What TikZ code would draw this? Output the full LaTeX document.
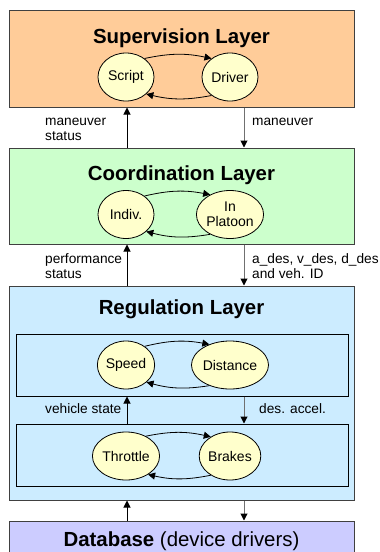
\documentclass[tikz,border=0pt]{standalone}
\usepackage{fontspec}
\setmainfont{Liberation Sans}
\usetikzlibrary{arrows.meta,shapes.geometric}
\definecolor{supfill}{HTML}{FFCC99}
\definecolor{coordfill}{HTML}{CCFFCC}
\definecolor{regfill}{HTML}{CCECFF}
\definecolor{dbfill}{HTML}{CCCCFF}
\definecolor{statefill}{HTML}{FFFFCC}
\definecolor{boxline}{HTML}{404040}
\definecolor{downgray}{HTML}{707070}
\begin{document}
\begin{tikzpicture}[x=1pt,y=-1pt,
  layer/.style={draw=boxline, line width=1pt, rectangle, inner sep=0pt},
  inner/.style={draw=black, line width=1pt, rectangle, inner sep=0pt},
  state/.style={ellipse, draw=black, fill=statefill, line width=0.8pt,
    minimum width=56pt, minimum height=48pt, inner sep=0pt,
    font=\fontsize{14}{15}\selectfont, align=center},
  title/.style={font=\fontsize{20.4}{24}\selectfont\bfseries, anchor=base, inner sep=0pt},
  lbl/.style={font=\fontsize{13.7}{15}\selectfont, align=left, anchor=base west, inner sep=0pt},
  loop/.style={-{Triangle[length=7pt,width=7pt]}, line width=0.8pt, black},
  uparrow/.style={-{Triangle[length=7pt,width=7pt]}, line width=1pt, black},
  downarrow/.style={draw=downgray, -{Triangle[length=7pt,width=7pt,color=black]}, line width=1pt}]
\useasboundingbox (0,0) rectangle (380,552);
\begin{scope}
\clip (0,0) rectangle (380,552);
% layers
\node[layer, fill=supfill, minimum width=345pt, minimum height=97pt] (sup) at (181.5,58.5) {};
\node[layer, fill=coordfill, minimum width=345pt, minimum height=96pt] (coord) at (181.5,196) {};
\node[layer, fill=regfill, minimum width=345pt, minimum height=214pt] (reg) at (181.5,393) {};
\node[inner, minimum width=332pt, minimum height=62pt] (reg1) at (182,365) {};
\node[inner, minimum width=332pt, minimum height=62pt] (reg2) at (182,455) {};
\node[layer, fill=dbfill, minimum width=345pt, minimum height=60pt] (db) at (181.5,551) {};
\end{scope}
% titles
\node[title] (suptitle) at (181.5,43) {Supervision Layer};
\node[title] (coordtitle) at (181.5,180) {Coordination Layer};
\node[title] (regtitle) at (181.5,314) {Regulation Layer};
\node[title, font=\fontsize{20.4}{24}\selectfont] (dbtitle) at (181.5,546) {\textbf{Database} (device drivers)};
% states
\node[state] (script) at (126,77) {Script};
\node[state] (driver) at (230,77) {Driver};
\node[state] (indiv) at (126,214.5) {Indiv.};
\node[state] (platoon) at (230,214.5) {In\\Platoon};
\node[state] (speed) at (126,365) {Speed};
\node[state] (distance) at (230,365) {Distance};
\node[state] (throttle) at (126,456) {Throttle};
\node[state] (brakes) at (230,456) {Brakes};
% loops
\foreach \a/\b in {script/driver, indiv/platoon, speed/distance, throttle/brakes}{
  \draw[loop] (\a.45) to[bend left=12] (\b.135);
  \draw[loop] (\b.-135) to[bend left=12] (\a.-40);
}
% inter-layer arrows
\coordinate (ux) at (127,0);
\coordinate (dx) at (244,0);
\draw[uparrow] (coord.north -| ux) -- (sup.south -| ux);
\draw[downarrow] (sup.south -| dx) -- (coord.north -| dx);
\draw[uparrow] (reg.north -| ux) -- (coord.south -| ux);
\draw[downarrow] (coord.south -| dx) -- (reg.north -| dx);
\draw[uparrow] (reg2.north -| ux) -- (reg1.south -| ux);
\draw[downarrow] (reg1.south -| dx) -- (reg2.north -| dx);
\draw[uparrow] (db.north -| ux) -- (reg.south -| ux);
\draw[downarrow] (reg.south -| dx) -- (db.north -| dx);
% labels
\node[lbl] (l1) at (45,140) {maneuver\\status};
\node[lbl] (l2) at (252,125) {maneuver};
\node[lbl] (l3) at (45,278) {performance\\status};
\node[lbl] (l4) at (252,278) {a\_des, v\_des, d\_des\\and veh. ID};
\node[lbl] (l5) at (45,413) {vehicle state};
\node[lbl] (l6) at (259,413) {des. accel.};
\end{tikzpicture}
\end{document}
